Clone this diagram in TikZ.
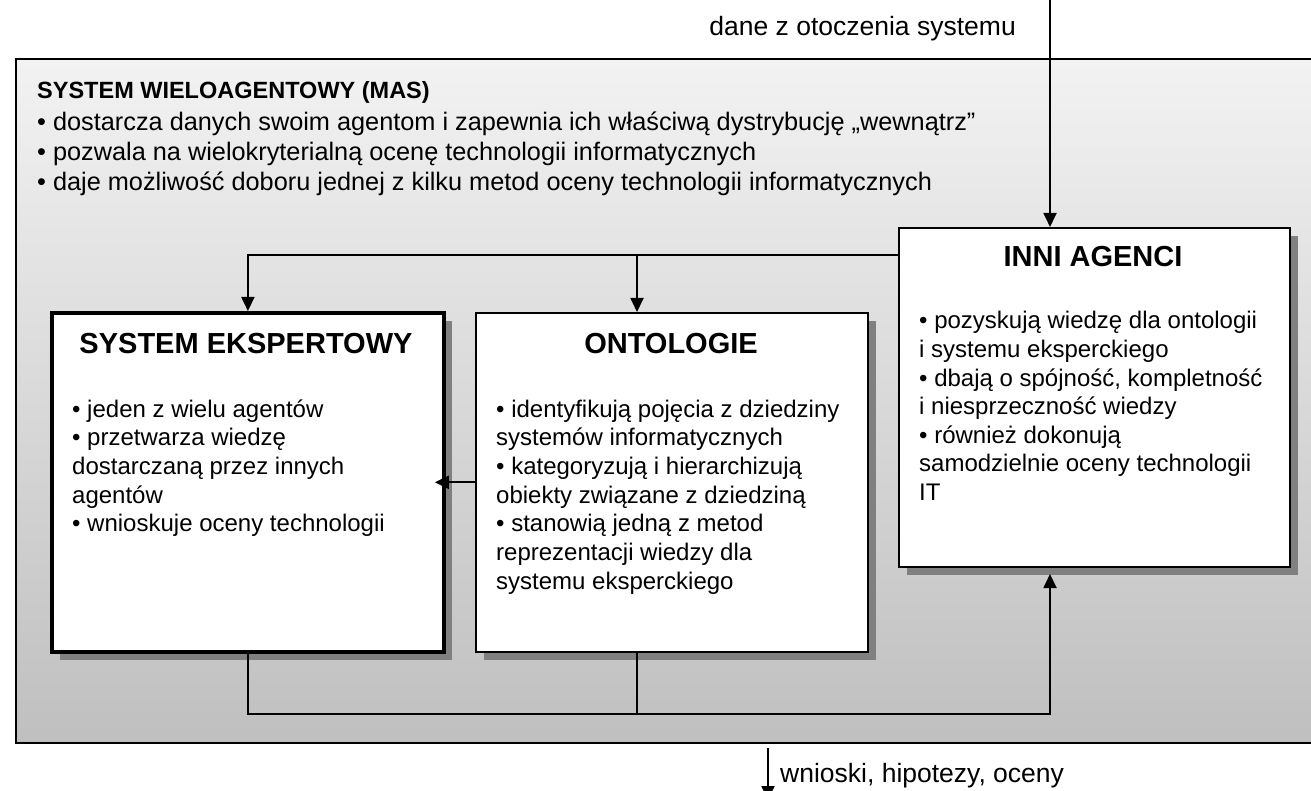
\documentclass[tikz,border=0pt]{standalone}
\usepackage{fontspec}
\setmainfont{Liberation Sans}
\usetikzlibrary{arrows.meta,calc,shadows}
\tikzset{
  shadowed/.style={drop shadow={shadow xshift=8pt,shadow yshift=-8pt,fill=black!50,opacity=1}},
  agentbox/.style={draw=black, line width=1.6pt, fill=white, inner sep=0pt, anchor=north west, shadowed},
  heavybox/.style={agentbox, line width=3.8pt},
  boxtitle/.style={font=\fontsize{29}{34}\selectfont\bfseries, anchor=base, inner sep=0pt},
  bodytxt/.style={font=\fontsize{24}{28.7}\selectfont, anchor=base west, inner sep=0pt},
  masbody/.style={font=\fontsize{25.3}{30}\selectfont, anchor=base west, inner sep=0pt},
  labeltxt/.style={font=\fontsize{26.5}{30}\selectfont, inner sep=0pt},
  mastitle/.style={font=\fontsize{23.5}{28}\selectfont\bfseries, anchor=base west, inner sep=0pt},
  link/.style={line width=1.8pt, draw=black},
  arr/.style={link, -{Triangle[length=14pt,width=13pt]}},
}
\begin{document}
\begin{tikzpicture}[x=1pt,y=-1pt]
\useasboundingbox (0,0) rectangle (1311,791);
\clip (0,0) rectangle (1311,791);
\fill[white] (0,0) rectangle (1311,791);
% main MAS box
\node[draw=black, line width=2pt, top color=black!5, bottom color=black!25,
      minimum width=1320pt, minimum height=684pt, anchor=north west, inner sep=0pt] (mas) at (15,58) {};
\node[mastitle] (mastitle) at (37,99) {SYSTEM WIELOAGENTOWY (MAS)};
\foreach \t [count=\i from 0] in {{• dostarcza danych swoim agentom i zapewnia ich właściwą dystrybucję „wewnątrz”},{• pozwala na wielokryterialną ocenę technologii informatycznych},{• daje możliwość doboru jednej z kilku metod oceny technologii informatycznych}}
  \node[masbody] (mas-\i) at (37,{130.5+30*\i}) {\t};

% agent boxes
\node[heavybox, minimum width=392pt, minimum height=339pt] (se) at (50,311) {};
\node[agentbox, minimum width=392pt, minimum height=339pt] (ont) at (475,312) {};
\node[agentbox, minimum width=391pt, minimum height=339pt] (inni) at (898,227) {};

\node[boxtitle] (setitle) at (246,353) {SYSTEM EKSPERTOWY};
\node[boxtitle] (onttitle) at (671,353) {ONTOLOGIE};
\node[boxtitle] (innititle) at (1093,267) {INNI AGENCI};

\foreach \t [count=\i from 0] in {{• jeden z wielu agentów},{• przetwarza wiedzę},{dostarczaną przez innych},{agentów},{• wnioskuje oceny technologii}}
  \node[bodytxt] (se-\i) at (72,{417+28.7*\i}) {\t};
\foreach \t [count=\i from 0] in {{• identyfikują pojęcia z dziedziny},{systemów informatycznych},{• kategoryzują i hierarchizują},{obiekty związane z dziedziną},{• stanowią jedną z metod},{reprezentacji wiedzy dla},{systemu eksperckiego}}
  \node[bodytxt] (ont-\i) at (496,{417+28.7*\i}) {\t};
\foreach \t [count=\i from 0] in {{• pozyskują wiedzę dla ontologii},{i systemu eksperckiego},{• dbają o spójność, kompletność},{i niesprzeczność wiedzy},{• również dokonują},{samodzielnie oceny technologii},{IT}}
  \node[bodytxt] (inni-\i) at (919,{329+28.5*\i}) {\t};

% external labels and arrows
\node[labeltxt, anchor=base east] (inlabel) at (1016,36) {dane z otoczenia systemu};
\node[labeltxt, anchor=base west] (outlabel) at (780,782) {wnioski, hipotezy, oceny};
\coordinate (intop) at (1050,-5);
\coordinate (outtip) at (768,800);
\draw[arr] (intop) -- (intop |- inni.north);
\draw[arr] ([yshift=-4pt]mas.south -| outtip) -- (outtip);

% internal connectors
\coordinate (bus) at (637,255);
\draw[arr] (inni.west |- bus) -| (se.north);
\draw[arr] (bus) -- (bus |- ont.north);
\draw[arr] (ont.west) -- ([xshift=-11pt]se.east |- ont.west);
\coordinate (ret) at (637,714);
\coordinate (inbot) at (1050,574);
\draw[link] (se.south) |- (ret);
\draw[link] (ret |- ont.south) -- (ret);
\draw[arr] (ret) -| (inbot);
\end{tikzpicture}
\end{document}
